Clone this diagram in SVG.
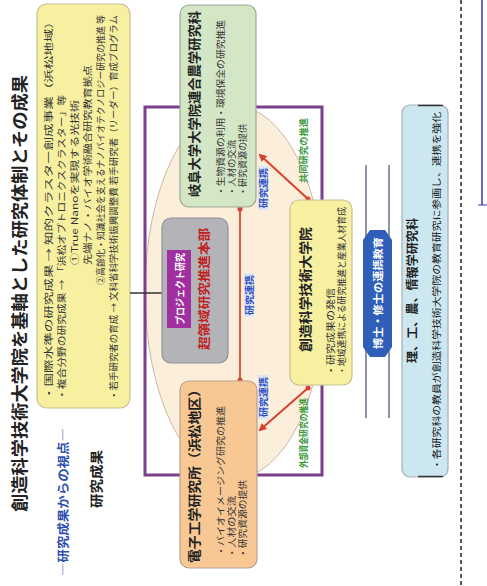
<svg xmlns="http://www.w3.org/2000/svg" width="487" height="586" viewBox="0 0 487 586">
<style>
text{font-family:"Noto Sans CJK JP","Liberation Sans",sans-serif;dominant-baseline:central;}
.t{font-size:9px;fill:#333;}
.h{font-weight:bold;fill:#222;}
.box{stroke-width:1.2;}
.lbl{font-size:9px;fill:#3050c0;font-weight:bold;}
.glbl{font-size:9px;fill:#3a9a3a;font-weight:bold;}
</style>
<defs>
<marker id="ah" markerWidth="8" markerHeight="8" refX="6" refY="4" orient="auto" markerUnits="userSpaceOnUse">
<path d="M0,0 L8,4 L0,8 z" fill="#d84030"/>
</marker>
<marker id="dot" markerWidth="6" markerHeight="6" refX="3" refY="3" markerUnits="userSpaceOnUse">
<circle cx="3" cy="3" r="2.5" fill="#d84030"/>
</marker>
</defs>
<rect width="487" height="586" fill="#fff"/>

<g id="headings">
<text class="h" font-size="17" transform="translate(18,512) rotate(-90)" textLength="437" lengthAdjust="spacingAndGlyphs">創造科学技術大学院を基軸とした研究体制とその成果</text>
<text font-size="12" fill="#3050b0" font-weight="bold" transform="translate(62,576) rotate(-90)" textLength="148" lengthAdjust="spacingAndGlyphs">―研究成果からの視点―</text>
<text class="h" font-size="13" transform="translate(95,508) rotate(-90)" textLength="58" lengthAdjust="spacingAndGlyphs">研究成果</text>
</g>

<g id="frame">
<ellipse cx="235" cy="292" rx="90" ry="186" fill="#fbeedb" stroke="#c8b8a8" stroke-width="1"/>
<rect x="145" y="107" width="177" height="368" fill="none" stroke="#7b3f8c" stroke-width="3"/>
</g>

<g id="results">
<rect class="box" x="37" y="4" width="93" height="404" rx="10" fill="#f7f0a0" stroke="#c8c090"/>
<text class="t" transform="translate(48,400) rotate(-90)" textLength="385" lengthAdjust="spacingAndGlyphs">・国際水準の研究成果 → 知的クラスター創成事業（浜松地域）</text>
<text class="t" transform="translate(61,400) rotate(-90)" textLength="305" lengthAdjust="spacingAndGlyphs">・複合分野の研究成果 → 「浜松オプトロニクスクラスター」等</text>
<text class="t" transform="translate(74,265) rotate(-90)" textLength="165" lengthAdjust="spacingAndGlyphs">①True Nanoを実現する光技術</text>
<text class="t" transform="translate(87,265) rotate(-90)" textLength="200" lengthAdjust="spacingAndGlyphs">先端ナノ・バイオ学術融合研究教育拠点</text>
<text class="t" font-size="8.5" transform="translate(100,285) rotate(-90)" textLength="270" lengthAdjust="spacingAndGlyphs">②高齢化・知識社会を支えるナノバイオテクノロジー研究の推進 等</text>
<text class="t" transform="translate(113,400) rotate(-90)" textLength="385" lengthAdjust="spacingAndGlyphs">・若手研究者の育成 → 文科省科学技術振興調整費 若手研究者（リーダー）育成プログラム</text>
</g>

<g id="connectors">
<line x1="130" y1="293" x2="163" y2="293" stroke="#333" stroke-width="1.5"/>
<line x1="240" y1="209" x2="240" y2="380" stroke="#e05a3a" stroke-width="2" marker-start="url(#dot)" marker-end="url(#dot)"/>
<line x1="308" y1="199" x2="260" y2="155" stroke="#d84030" stroke-width="2" marker-end="url(#ah)" marker-start="url(#dot)"/>
<line x1="308" y1="388" x2="260" y2="430" stroke="#d84030" stroke-width="2" marker-end="url(#ah)" marker-start="url(#dot)"/>
<rect x="244" y="273" width="10" height="44" fill="#dde4f5"/>
<text class="lbl" transform="translate(249,315) rotate(-90)" textLength="40" lengthAdjust="spacingAndGlyphs">研究連携</text>
<rect x="258" y="166" width="10" height="44" fill="#dde4f5"/>
<text class="lbl" transform="translate(263,208) rotate(-90)" textLength="40" lengthAdjust="spacingAndGlyphs">研究連携</text>
<rect x="258" y="375" width="10" height="44" fill="#dde4f5"/>
<text class="lbl" transform="translate(263,417) rotate(-90)" textLength="40" lengthAdjust="spacingAndGlyphs">研究連携</text>
<text class="glbl" transform="translate(303,183) rotate(-90)" textLength="65" lengthAdjust="spacingAndGlyphs">共同研究の推進</text>
<text class="glbl" transform="translate(303,468) rotate(-90)" textLength="70" lengthAdjust="spacingAndGlyphs">外部資金研究の推進</text>
</g>

<g id="gifu">
<rect class="box" x="180" y="5" width="76" height="202" rx="9" fill="#d3e6c6" stroke="#a0a898"/>
<text class="h" font-size="13" transform="translate(193,197) rotate(-90)" textLength="186" lengthAdjust="spacingAndGlyphs">岐阜大学大学院連合農学研究科</text>
<text class="t" font-size="8.5" transform="translate(220,196) rotate(-90)" textLength="176" lengthAdjust="spacingAndGlyphs">・生物資源の利用・環境保全の研究推進</text>
<text class="t" font-size="8.5" transform="translate(231,196) rotate(-90)" textLength="56" lengthAdjust="spacingAndGlyphs">・人材の交流</text>
<text class="t" font-size="8.5" transform="translate(242,196) rotate(-90)" textLength="72" lengthAdjust="spacingAndGlyphs">・研究資源の提供</text>
</g>

<g id="center">
<rect class="box" x="162" y="218" width="66" height="145" rx="9" fill="#b4b4b8" stroke="#909098"/>
<rect x="167" y="250" width="24" height="78" fill="#a030a0"/>
<text font-size="10" fill="#fff" font-weight="bold" transform="translate(179,325) rotate(-90)" textLength="72" lengthAdjust="spacingAndGlyphs">プロジェクト研究</text>
<text font-size="12" fill="#c02020" font-weight="bold" transform="translate(203,350) rotate(-90)" textLength="122" lengthAdjust="spacingAndGlyphs">超領域研究推進本部</text>
</g>

<g id="rie">
<rect class="box" x="180" y="381" width="77" height="187" rx="9" fill="#f7c894" stroke="#b8a090"/>
<text class="h" font-size="13" transform="translate(193,563) rotate(-90)" textLength="180" lengthAdjust="spacingAndGlyphs">電子工学研究所（浜松地区）</text>
<text class="t" font-size="8.5" transform="translate(220,556) rotate(-90)" textLength="150" lengthAdjust="spacingAndGlyphs">・バイオイメージング研究の推進</text>
<text class="t" font-size="8.5" transform="translate(231,558) rotate(-90)" textLength="62" lengthAdjust="spacingAndGlyphs">・人材の交流</text>
<text class="t" font-size="8.5" transform="translate(242,558) rotate(-90)" textLength="78" lengthAdjust="spacingAndGlyphs">・研究資源の提供</text>
</g>

<g id="gsst">
<rect class="box" x="290" y="200" width="62" height="185" rx="9" fill="#f7f0a0" stroke="#c8c090"/>
<text class="h" font-size="13" transform="translate(304,352) rotate(-90)" textLength="125" lengthAdjust="spacingAndGlyphs">創造科学技術大学院</text>
<text class="t" font-size="8.5" transform="translate(330,376) rotate(-90)" textLength="88" lengthAdjust="spacingAndGlyphs">・研究成果の発信</text>
<text class="t" font-size="8.5" transform="translate(341,375) rotate(-90)" textLength="168" lengthAdjust="spacingAndGlyphs">・地域連携による研究推進と産業人材育成</text>
</g>

<g id="edu">
<line x1="366" y1="165" x2="366" y2="418" stroke="#6a7090" stroke-width="1.5"/>
<line x1="389" y1="165" x2="389" y2="418" stroke="#6a7090" stroke-width="1.5"/>
<polygon points="363,240 370,230 385,230 392,240 392,347 385,357 370,357 363,347" fill="#2f5fb8"/>
<text font-size="10.5" fill="#fff" font-weight="bold" transform="translate(377,349) rotate(-90)" textLength="112" lengthAdjust="spacingAndGlyphs">博士・修士の連携教育</text>
</g>

<g id="faculties">
<rect class="box" x="402" y="105" width="46" height="372" rx="8" fill="#cde7f0" stroke="#a0b0b8"/>
<line x1="418" y1="105.5" x2="443" y2="105.5" stroke="#333" stroke-width="1.5"/>
<line x1="418" y1="476.5" x2="443" y2="476.5" stroke="#333" stroke-width="1.5"/>
<text class="h" font-size="12" transform="translate(411,363) rotate(-90)" textLength="145" lengthAdjust="spacingAndGlyphs">理、工、農、情報学研究科</text>
<text font-size="9" fill="#111" transform="translate(436,470) rotate(-90)" textLength="358" lengthAdjust="spacingAndGlyphs">・各研究科の教員が創造科学技術大学院の教育研究に参画し、連携を強化</text>
</g>

<g id="page-edges">
<line x1="461" y1="0" x2="461" y2="586" stroke="#222" stroke-width="1.5" stroke-dasharray="4,3"/>
<line x1="482" y1="0" x2="482" y2="205" stroke="#3a3ab0" stroke-width="1.5"/>
<line x1="478" y1="205" x2="487" y2="205" stroke="#3a3ab0" stroke-width="1"/>
</g>
</svg>
